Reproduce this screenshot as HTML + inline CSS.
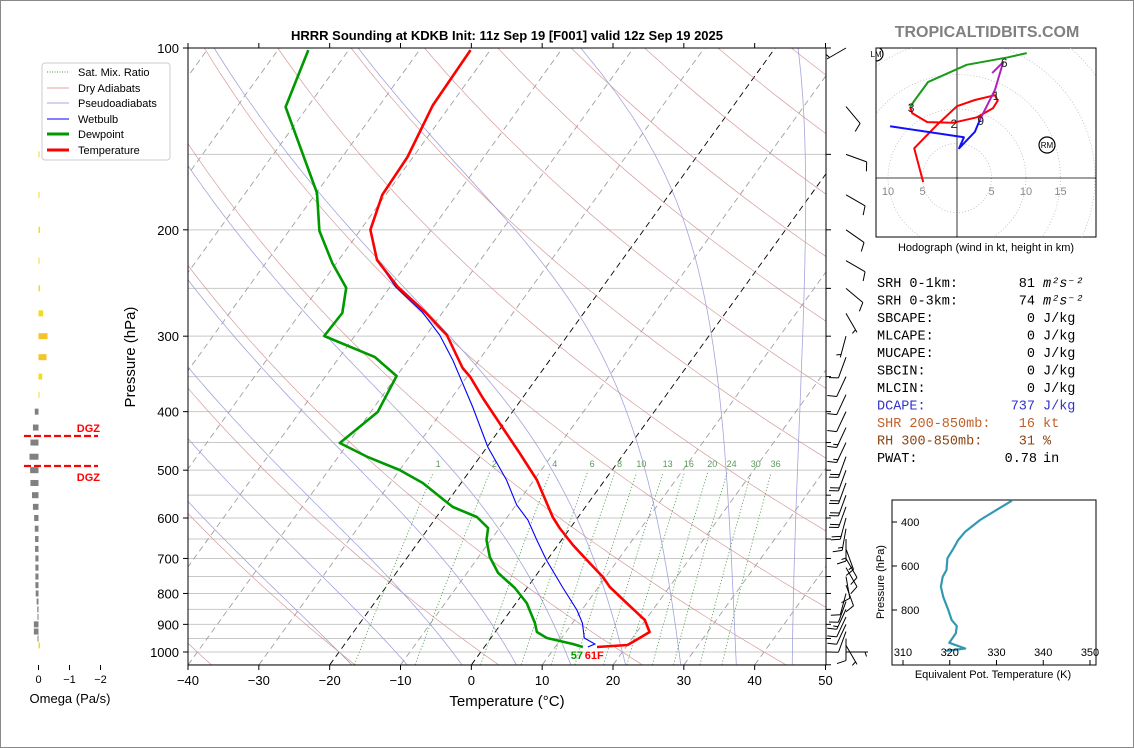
<!DOCTYPE html>
<html><head><meta charset="utf-8"><style>
html,body{margin:0;padding:0;background:#fff;}
#wrap{position:relative;width:1134px;height:748px;overflow:hidden;}
svg text{font-family:"Liberation Sans","DejaVu Sans",sans-serif;}
.mono{font-family:"Liberation Mono","DejaVu Sans Mono",monospace;font-size:13.5px;}
</style></head><body>
<div id="wrap">
<svg id="svg" width="1134" height="748" viewBox="0 0 1134 748" xmlns="http://www.w3.org/2000/svg">
<rect x="0.5" y="0.5" width="1133" height="747" fill="#fff" stroke="#888"/>
<defs><clipPath id="plotclip"><rect x="188" y="48" width="638" height="617"/></clipPath>
<clipPath id="hodoclip"><rect x="876" y="48" width="220" height="189"/></clipPath></defs>
<text x="507" y="40" text-anchor="middle" font-size="13" font-weight="bold">HRRR Sounding at KDKB Init: 11z Sep 19 [F001] valid 12z Sep 19 2025</text>
<g id="bg" clip-path="url(#plotclip)"></g>
<g id="profiles" clip-path="url(#plotclip)"></g>
<g id="axes"></g>
<g id="barbs"></g>
<g id="omega"></g>
<g id="hodo"></g>
<g id="thetae"></g>
<g id="stats" class="mono"></g>
<text x="987" y="37" text-anchor="middle" font-size="16" font-weight="bold" fill="#808080">TROPICALTIDBITS.COM</text>
<g>
<rect x="42" y="63" width="128" height="97" rx="3" fill="#fff" stroke="#ccc"/>
<line x1="47" y1="72" x2="69" y2="72" stroke="#4a9a4a" stroke-dasharray="1,1.5"/>
<text x="78" y="76" font-size="11">Sat. Mix. Ratio</text>
<line x1="47" y1="88" x2="69" y2="88" stroke="#e0a0a0"/>
<text x="78" y="92" font-size="11">Dry Adiabats</text>
<line x1="47" y1="103" x2="69" y2="103" stroke="#a8a8e0"/>
<text x="78" y="107" font-size="11">Pseudoadiabats</text>
<line x1="47" y1="119" x2="69" y2="119" stroke="#00f"/>
<text x="78" y="123" font-size="11">Wetbulb</text>
<line x1="47" y1="134" x2="69" y2="134" stroke="#009900" stroke-width="3"/>
<text x="78" y="138" font-size="11">Dewpoint</text>
<line x1="47" y1="150" x2="69" y2="150" stroke="#f00" stroke-width="3"/>
<text x="78" y="154" font-size="11">Temperature</text>
</g>
</svg>
</div>
<script>
// ---------- data ----------
const tempP = [100.8,124.3,151.5,175,200,224.4,248.7,273.6,298.7,338.7,350.5,379.7,424.2,468.3,519,597.7,623.3,665,704.2,751.2,780.5,829.5,885.1,926.6,948,973.6,981];
const tempT = [-62.8,-62.5,-60.8,-60.5,-58.6,-54.6,-48.9,-42.5,-37.1,-31.5,-29.5,-25.6,-19.9,-14.8,-9.6,-3.6,-1.5,2.1,5.6,9.6,11.6,15.6,19.9,21.8,21.0,20.0,15.9];
const dewP = [100.8,125.2,173.8,200.8,227,249.6,274.6,299.8,324.9,349.2,400.6,450.8,475.6,499.6,525.1,564.6,575.4,597.7,623.3,652.6,696.1,739.8,783.4,829.5,895.4,926.6,948,969.9,981];
const dewT = [-85.7,-83.1,-69.9,-65.7,-60.6,-56.1,-54.1,-54.3,-45.0,-40.0,-39.0,-41.2,-35.8,-30.0,-25.4,-20.1,-18.7,-14.3,-11.6,-10.6,-8.4,-5.6,-1.7,1.5,4.7,5.9,7.9,12.2,13.9];
const wbP = [100.8,124.3,151.5,175,200,224.4,248.7,273.6,298.7,328.6,393,457.7,519,571,604.6,652.6,704.2,780.5,852,895.4,948,969.9,981];
const wbT = [-62.8,-62.5,-60.8,-60.5,-58.6,-54.6,-49.2,-42.9,-38.1,-33.7,-26.1,-19.9,-13.9,-9.9,-6.8,-3.5,-0.1,4.9,9.3,11.4,13.2,15.3,14.6];
const tempTicks = [-40,-30,-20,-10,0,10,20,30,40,50];
const presTicks = [100,200,300,400,500,600,700,800,900,1000];
const mixRatios = [1,2,4,6,8,10,13,16,20,24,30,36];
const barbP = [1000,975,950,925,900,875,850,825,800,775,750,725,700,675,650,625,600,575,550,525,500,475,450,425,400,375,350,325,300,275,250,225,200,175,150,125,100];
const barbDir = [90,150,180,200,205,205,205,200,195,160,170,150,150,160,180,190,195,200,200,200,200,200,205,205,205,205,205,200,195,150,130,120,125,120,110,140,240];
const barbSpd = [5,5,8,10,12,12,13,12,11,10,9,11,12,14,16,17,18,19,19,19,18,18,16,14,12,10,9,8,7,6,10,12,12,10,10,8,6];
const omegaP = [150,175,200,225,250,275,300,325,350,375,400,425,450,475,500,525,550,575,600,625,650,675,700,725,750,775,800,825,850,875,900,925,950,975];
const omegaV = [-0.03,-0.03,-0.05,-0.03,-0.05,-0.15,-0.29,-0.26,-0.12,-0.03,0.12,0.18,0.26,0.29,0.27,0.26,0.21,0.18,0.14,0.12,0.11,0.11,0.1,0.1,0.1,0.1,0.09,0.06,0.04,0.03,0.15,0.15,0.02,-0.05];
const omegaTicks = [0,-1,-2];
const hodoRedU = [-4.9,-6.2,-2.9,0,2.6,5.5,5.9,5.2,2.9,-0.6,-4.3,-6.5,-6.8];
const hodoRedV = [-0.6,4.3,7.7,10.4,11.3,12.0,11.2,10.1,8.8,8.0,8.1,9.4,10.3];
const hodoGreenU = [-6.8,-6.1,-4.2,1.4,7.4,10.1];
const hodoGreenV = [10.3,11.3,13.9,16.4,17.5,18.1];
const hodoMagU = [5.1,6.7,5.5,3.3];
const hodoMagV = [15.2,16.8,12.8,8.4];
const hodoBlueU = [3.3,2.6,0.3,1.0,-9.7];
const hodoBlueV = [8.4,6.7,4.3,5.9,7.5];
const hodoTickLabels = [[-10,'10'],[-5,'5'],[5,'5'],[10,'10'],[15,'15']];
const theP = [303,345,391,444,482,520,565,618,649,694,740,800,845,873,906,949,975,986];
const theT = [333.3,330.0,326.5,323.3,321.8,320.8,319.5,319.3,318.5,318.1,318.6,319.7,320.4,321.5,321.3,319.9,323.3,319.2];
const theXTicks = [310,320,330,340,350];
const theYTicks = [400,600,800];

// ---------- helpers ----------
const NS='http://www.w3.org/2000/svg';
function mk(tag, attrs, parent, txt){const e=document.createElementNS(NS,tag);for(const k in attrs)e.setAttribute(k,attrs[k]);if(txt!==undefined)e.textContent=txt;parent.appendChild(e);return e;}
const X0=188, XW=637.5, TMIN=-40, TMAX=50, YTOP=48, YBOT=665, DEC=604, SK=0.722;
function yP(p){return YTOP+DEC*Math.log10(p/100);}
function xT(t,p){return X0+(t-TMIN)*XW/(TMAX-TMIN)+(YBOT-yP(p))*SK;}
function pts(T,P){return T.map((t,i)=>xT(t,P[i]).toFixed(1)+','+yP(P[i]).toFixed(1)).join(' ');}
const bg=document.getElementById('bg'), prof=document.getElementById('profiles'), ax=document.getElementById('axes');

for(let p=100;p<=1050;p+=50){const l=mk('line',{x1:188,x2:826,y1:yP(p),y2:yP(p),stroke:'#c8c8c8','stroke-width':1},bg);

}
for(let t=-140;t<=50;t+=10){const black=(t===0||t===-20);const l=mk('line',{x1:xT(t,1050),y1:yP(1050),x2:xT(t,100),y2:yP(100),stroke:black?'#000':'#a0a0a0','stroke-width':0.9,'stroke-dasharray':'6,4'},bg);

}
function plist(){const a=[];for(let p=1050;p>=100;p-=10)a.push(p);return a;}
const PL=plist();
for(let th=-40;th<=220;th+=20){const T=PL.map(p=>(th+273.15)*Math.pow(p/1000,0.2857)-273.15);const l=mk('polyline',{points:pts(T,PL),fill:'none',stroke:'#d08a8a','stroke-width':0.7,opacity:0.85},bg);

}
function es(tc){return 6.112*Math.exp(17.67*tc/(tc+243.5));}
function moist(t0){const res={};let T;const Rd=287,Cp=1004,Lv=2.5e6,eps=0.622;let p;res[1000]=t0;
for(let dir of [1,-1]){T=t0+273.15;p=1000;const steps=dir===1?50:900;for(let i=0;i<steps;i++){const rs=eps*es(T-273.15)/(p-es(T-273.15));const dTdp=(1/p)*(Rd*T+Lv*rs)/(Cp+Lv*Lv*rs*eps/(Rd*T*T));T+=dTdp*dir;p+=dir;res[Math.round(p)]=T-273.15;}}
return res;}
for(let t0=-20;t0<=44;t0+=8){const r=moist(t0);const P=[],T=[];for(let p=1050;p>=100;p-=10){if(r[p]!==undefined){P.push(p);T.push(r[p]);}}
const l=mk('polyline',{points:pts(T,P),fill:'none',stroke:'#9a9ad8','stroke-width':0.8,opacity:0.9},bg);

}
function tdFromW(w,p){const e=w*p/(622+w);const g=Math.log(e/6.112);return 243.5*g/(17.67-g);}
mixRatios.forEach(w=>{const P=[1050,950,850,750,650,550,505];const T=P.map(p=>tdFromW(w,p));
const l=mk('polyline',{points:pts(T,P),fill:'none',stroke:'#4a9a4a','stroke-width':0.8,'stroke-dasharray':'1.2,2'},bg);


const tl=mk('text',{x:xT(tdFromW(w,500),490),y:yP(490)+2,'text-anchor':'middle','font-size':9,fill:'#5a9a5a'},bg,String(w));

});

let e;
e=mk('polyline',{points:pts(wbT,wbP),fill:'none',stroke:'#0000ff','stroke-width':1.1},prof);


e=mk('polyline',{points:pts(dewT,dewP),fill:'none',stroke:'#009900','stroke-width':2.6,'stroke-linejoin':'round'},prof);


e=mk('polyline',{points:pts(tempT,tempP),fill:'none',stroke:'#ff0000','stroke-width':2.6,'stroke-linejoin':'round'},prof);


const sT=tempT[tempT.length-1], sD=dewT[dewT.length-1], sp=tempP[tempP.length-1];
const sx=xT(sD,sp);
e=mk('text',{x:sx-12,y:yP(sp)+12,'font-size':11,'font-weight':'bold',fill:'#009900'},ax,String(Math.round(sD*9/5+32)));


e=mk('text',{x:sx+2,y:yP(sp)+12,'font-size':11,'font-weight':'bold',fill:'#ff0000'},ax,Math.round(sT*9/5+32)+'F');



e=mk('rect',{x:188,y:48,width:638,height:617,fill:'none',stroke:'#000','stroke-width':1},ax);


tempTicks.forEach(t=>{const x=X0+(t-TMIN)*XW/(TMAX-TMIN);
mk('line',{x1:x,x2:x,y1:665,y2:670,stroke:'#000'},ax);mk('line',{x1:x,x2:x,y1:48,y2:43,stroke:'#000'},ax);
const tx=mk('text',{x:x,y:685,'text-anchor':'middle','font-size':13},ax,(t<0?'\u2212':'')+Math.abs(t));

});
presTicks.forEach(p=>{const y=yP(p);mk('line',{x1:183,x2:188,y1:y,y2:y,stroke:'#000'},ax);
const tx=mk('text',{x:179,y:y+5,'text-anchor':'end','font-size':13},ax,String(p));

});
for(let p=100;p<=1050;p+=50){const y=yP(p);mk('line',{x1:826,x2:831,y1:y,y2:y,stroke:'#000'},ax);}
e=mk('text',{x:507,y:706,'text-anchor':'middle','font-size':15},ax,'Temperature (\u00b0C)');


e=mk('text',{x:135,y:357,'text-anchor':'middle','font-size':15,transform:'rotate(-90 135 357)'},ax,'Pressure (hPa)');



const bgp=document.getElementById('barbs');
barbP.forEach((p,i)=>{const d=barbDir[i]*Math.PI/180;const x0=846,y0=yP(p);const ux=Math.sin(d),uy=-Math.cos(d);const L=22;
const x1=x0+ux*L,y1=y0+uy*L;const g=mk('g',{stroke:'#000','stroke-width':1,fill:'none'},bgp);


mk('line',{x1:x0,y1:y0,x2:x1,y2:y1},g);
let s=Math.round(barbSpd[i]/5)*5;let pos=0;const px=-uy,py=ux;
const full=Math.floor(s/10);const half=(s%10)>=5;
for(let k=0;k<full;k++){const bx=x1-ux*pos,by=y1-uy*pos;mk('line',{x1:bx,y1:by,x2:bx+px*9+ux*3,y2:by+py*9+uy*3},g);pos+=3;}
if(half){if(full===0)pos=3;const bx=x1-ux*pos,by=y1-uy*pos;mk('line',{x1:bx,y1:by,x2:bx+px*4.5+ux*1.5,y2:by+py*4.5+uy*1.5},g);}
});

const om=document.getElementById('omega');
const OX=38.5, OS=31;
omegaP.forEach((p,i)=>{const v=omegaV[i];const w=Math.max(Math.abs(v)*OS,1);const x=v<0?OX:OX-w;
const r=mk('rect',{x:x,y:yP(p)-3,width:w,height:6,fill:v<0?(Math.abs(v)>0.2?'#f5c32a':'#f2dc1e'):'#808080'},om);

});
omegaTicks.forEach(t=>{const x=OX-t*OS;mk('line',{x1:x,x2:x,y1:665,y2:670,stroke:'#000'},om);
const tx=mk('text',{x:x,y:683,'text-anchor':'middle','font-size':11},om,t===0?'0':'\u2212'+Math.abs(t));

});
e=mk('text',{x:70,y:703,'text-anchor':'middle','font-size':13},om,'Omega (Pa/s)');


[436,466].forEach((y,i)=>{mk('line',{x1:24,x2:98,y1:y,y2:y,stroke:'#f00','stroke-width':2.2,'stroke-dasharray':'7,3'},om);
const tx=mk('text',{x:100,y:i===0?y-4:y+15,'text-anchor':'end','font-size':11,'font-weight':'bold',fill:'#f00'},om,'DGZ');

});

const hg=document.getElementById('hodo');
const HX=957,HY=178,HS=6.9;
e=mk('rect',{x:876,y:48,width:220,height:189,fill:'#fff',stroke:'#000'},hg);


const hc=mk('g',{'clip-path':'url(#hodoclip)'},hg);
for(let r=5;r<=40;r+=5){mk('circle',{cx:HX,cy:HY,r:r*HS,fill:'none',stroke:'#bbb','stroke-width':0.8,'stroke-dasharray':'1,2'},hc);}
mk('line',{x1:876,x2:1096,y1:HY,y2:HY,stroke:'#000','stroke-width':0.8},hc);
mk('line',{x1:HX,x2:HX,y1:48,y2:237,stroke:'#000','stroke-width':0.8},hc);
function hpts(U,V){return U.map((u,i)=>(HX+u*HS).toFixed(1)+','+(HY-V[i]*HS).toFixed(1)).join(' ');}
[[hodoRedU,hodoRedV,'#f00','hodo-0-3km'],[hodoGreenU,hodoGreenV,'#1a9a1a','hodo-3-6km'],[hodoMagU,hodoMagV,'#b020c0','hodo-6-9km'],[hodoBlueU,hodoBlueV,'#1010ff','hodo-9-12km']].forEach(s=>{
const l=mk('polyline',{points:hpts(s[0],s[1]),fill:'none',stroke:s[2],'stroke-width':2,'stroke-linejoin':'round'},hc);

});
[['1',hodoRedU[5],hodoRedV[5]],['2',hodoRedU[9],hodoRedV[9]],['3',hodoRedU[12],hodoRedV[12]],['6',hodoMagU[1],hodoMagV[1]],['9',hodoMagU[3],hodoMagV[3]]].forEach(h=>{
const t=mk('text',{x:HX+h[1]*HS+1,y:HY-h[2]*HS+5,'text-anchor':'middle','font-size':12,fill:'#222'},hc,h[0]);

});
hodoTickLabels.forEach(h=>{const t=mk('text',{x:HX+h[0]*HS,y:HY+17,'text-anchor':'middle','font-size':11,fill:'#888'},hc,h[1]);

});
mk('circle',{cx:1047,cy:145,r:8,fill:'none',stroke:'#000','stroke-width':1.2},hc);
e=mk('text',{x:1047,y:148,'text-anchor':'middle','font-size':8},hc,'RM');


mk('circle',{cx:876,cy:54,r:7,fill:'none',stroke:'#000','stroke-width':1.2},hc);
e=mk('text',{x:876,y:57,'text-anchor':'middle','font-size':8},hg,'LM');


e=mk('text',{x:986,y:251,'text-anchor':'middle','font-size':11},hg,'Hodograph (wind in kt, height in km)');



const tg=document.getElementById('thetae');
const TX0=903,TXS=4.675,TY0=522,TYS=0.22;
function txE(t){return TX0+(t-310)*TXS;} function tyP(p){return TY0+(p-400)*TYS;}
e=mk('rect',{x:892,y:500,width:204,height:165,fill:'#fff',stroke:'#000'},tg);


e=mk('polyline',{points:theT.map((t,i)=>txE(t).toFixed(1)+','+tyP(theP[i]).toFixed(1)).join(' '),fill:'none',stroke:'#3399b3','stroke-width':2.2,'stroke-linejoin':'round'},tg);


theXTicks.forEach(t=>{const x=txE(t);mk('line',{x1:x,x2:x,y1:665,y2:660,stroke:'#000'},tg);
const tx=mk('text',{x:x,y:656,'text-anchor':'middle','font-size':11},tg,String(t));

});
theYTicks.forEach(p=>{const y=tyP(p);mk('line',{x1:892,x2:897,y1:y,y2:y,stroke:'#000'},tg);
const tx=mk('text',{x:901,y:y+4,'font-size':11},tg,String(p));

});
e=mk('text',{x:993,y:678,'text-anchor':'middle','font-size':11},tg,'Equivalent Pot. Temperature (K)');


e=mk('text',{x:884,y:582,'text-anchor':'middle','font-size':11,transform:'rotate(-90 884 582)'},tg,'Pressure (hPa)');



const st=document.getElementById('stats');
const rows=[['SRH 0-1km:','81','m²s⁻²','#000'],['SRH 0-3km:','74','m²s⁻²','#000'],['SBCAPE:','0','J/kg','#000'],['MLCAPE:','0','J/kg','#000'],['MUCAPE:','0','J/kg','#000'],['SBCIN:','0','J/kg','#000'],['MLCIN:','0','J/kg','#000'],['DCAPE:','737','J/kg','#3333cc'],['SHR 200-850mb:','16','kt','#c0602a'],['RH 300-850mb:','31','%','#8b4513'],['PWAT:','0.78','in','#000']];
rows.forEach((r,i)=>{const y=287+i*17.5;const g=mk('g',{fill:r[3]},st);


mk('text',{x:877,y:y,'class':'mono'},g,r[0]);
mk('text',{x:r[2]==='in'?1037:1035,y:y,'text-anchor':'end','class':'mono'},g,r[1]);
mk('text',{x:1043,y:y,'class':'mono','font-style':r[2].indexOf('m')===0?'italic':'normal'},g,r[2]);});
</script>
</body></html>
